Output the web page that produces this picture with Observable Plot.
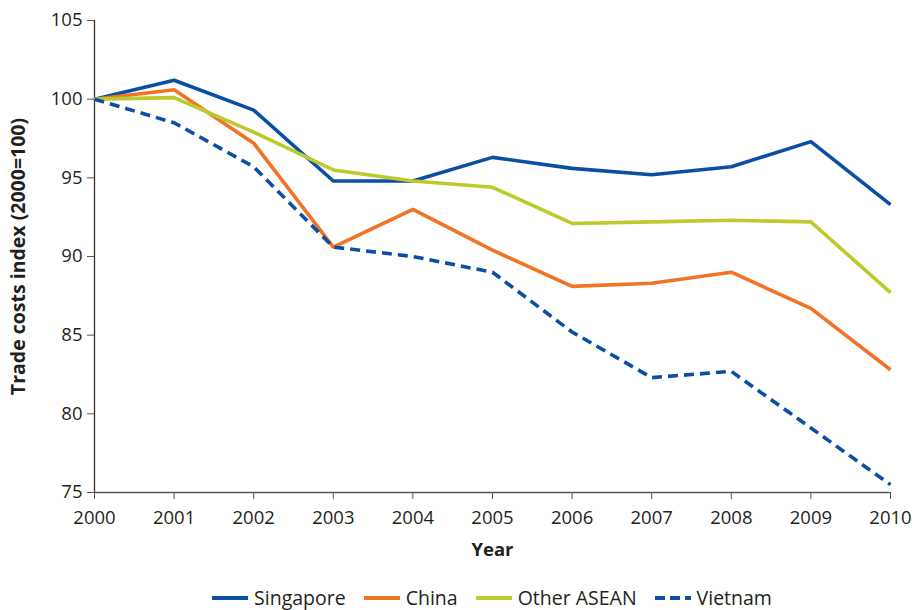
<!DOCTYPE html>
<html>
<head>
<meta charset="utf-8">
<script src="https://cdn.jsdelivr.net/npm/d3@7"></script>
<script src="https://cdn.jsdelivr.net/npm/@observablehq/plot@0.6"></script>
<style>
  body { margin: 0; background: #fff; font-family: "Open Sans", "Noto Sans", sans-serif; color: #231f20; }
  #chart svg { display: block; }
  #legend { display: flex; justify-content: center; align-items: center; gap: 18px; font-size: 19.5px; padding-left: 62px; width: 860px; margin-top: 4px; }
  #legend .item { display: flex; align-items: center; gap: 6px; }
</style>
</head>
<body>
<div id="chart"></div>
<div id="legend"></div>
<script>
const years = [2000, 2001, 2002, 2003, 2004, 2005, 2006, 2007, 2008, 2009, 2010];
const singapore = [100, 101.2, 99.3, 94.8, 94.8, 96.3, 95.6, 95.2, 95.7, 97.3, 93.3];
const china = [100, 100.6, 97.2, 90.6, 93.0, 90.4, 88.1, 88.3, 89.0, 86.7, 82.8];
const otherAsean = [100, 100.1, 97.9, 95.5, 94.8, 94.4, 92.1, 92.2, 92.3, 92.2, 87.7];
const vietnam = [100, 98.5, 95.7, 90.6, 90.0, 89.0, 85.2, 82.3, 82.7, 79.1, 75.5];
const seriesNames = ["Singapore", "China", "Other ASEAN", "Vietnam"];
const seriesColors = ["#0b4fa3", "#f37324", "#bccb2b", "#0b4fa3"];
const seriesDash = [null, null, null, "10,6"];
const yTicks = [75, 80, 85, 90, 95, 100, 105];

const seriesValues = [singapore, china, otherAsean, vietnam];
const data = seriesNames.flatMap((name, i) =>
  years.map((year, j) => ({ series: name, year, value: seriesValues[i][j] })));

const W = 922, H = 580;
const chart = Plot.plot({
  width: W,
  height: H,
  marginLeft: 94,
  marginRight: 32,
  marginTop: 20,
  marginBottom: H - 492,
  style: { fontFamily: '"Open Sans", "Noto Sans", sans-serif', fontSize: "18.5px", color: "#231f20", background: "#fff" },
  x: { domain: [2000, 2010] },
  y: { domain: [75, 105] },
  marks: [
    Plot.axisX({ ticks: years, tickFormat: "d", tickSize: 7, tickPadding: 11, stroke: "#555", fill: "#231f20", fontSize: 18.5, label: null }),
    Plot.axisY({ ticks: yTicks, tickSize: 7, tickPadding: 5, stroke: "#555", fill: "#231f20", fontSize: 18.5, label: null }),
    Plot.ruleX([2000], { stroke: "#333", strokeWidth: 1.3 }),
    Plot.ruleY([75], { stroke: "#555", strokeWidth: 1.3 }),
    ...seriesNames.map((name, i) => Plot.line(data.filter(d => d.series === name), {
      x: "year", y: "value", stroke: seriesColors[i], strokeWidth: 3.6,
      strokeDasharray: seriesDash[i], strokeLinejoin: "miter", strokeLinecap: "butt"
    })),
    Plot.text(["Year"], { frameAnchor: "bottom", dy: 63, fontWeight: "bold", fontSize: 18.5, fill: "#231f20" }),
    Plot.text(["Trade costs index (2000=100)"], { frameAnchor: "left", textAnchor: "middle", dx: -76, rotate: -90, fontWeight: "bold", fontSize: 19.5, fill: "#231f20" })
  ]
});
document.getElementById("chart").appendChild(chart);

const legend = document.getElementById("legend");
seriesNames.forEach((name, i) => {
  const item = document.createElement("div");
  item.className = "item";
  const dash = seriesDash[i] ? ` stroke-dasharray="10,5"` : "";
  item.innerHTML = `<svg width="36" height="10"><line x1="0" y1="5" x2="36" y2="5" stroke="${seriesColors[i]}" stroke-width="4"${dash}/></svg><span>${name}</span>`;
  legend.appendChild(item);
});
</script>
</body>
</html>
